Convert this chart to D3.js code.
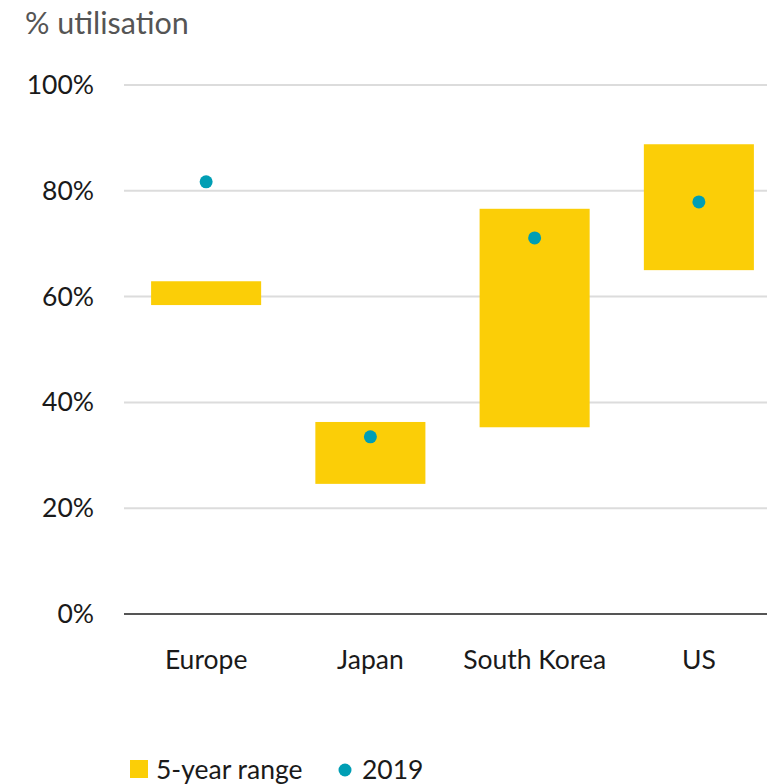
<!DOCTYPE html>
<head>
<meta charset="utf-8">
<style>
body, html {
  margin: 0;
  padding: 0;
  background: #fff;
  font-family: Lato, "Open Sans", sans-serif;
}
.grid line {
  stroke: #dcdcdc;
  stroke-width: 2;
}
.tick text {
  fill: #1a1a1a;
}
</style>
<script src="https://d3js.org/d3.v7.min.js"></script>
</head>
<body>
<script>

// values (% utilisation)
var countries = ["Europe", "Japan", "South Korea", "US"];
var rangeLow  = [58.4, 24.6, 35.3, 65.0];
var rangeHigh = [62.9, 36.3, 76.6, 88.8];
var value2019 = [81.7, 33.5, 71.1, 77.9];
var yTicks = [0, 20, 40, 60, 80, 100];

var width = 767,
    height = 784;

var yellow = "#fbce07",
    teal = "#009eb4";

var svg = d3.select("body").append("svg")
    .attr("width", width)
    .attr("height", height);

var x = d3.scaleBand()
    .domain(countries)
    .range([124, 781])
    .paddingInner(0.33)
    .paddingOuter(0.165);

var y = d3.scaleLinear()
    .domain([0, 100])
    .range([614, 85]);

// subtitle
svg.append("text")
    .attr("x", 25)
    .attr("y", 34)
    .attr("fill", "#555")
    .style("font-size", "30.5px")
    .text("% utilisation");

// gridlines
svg.append("g")
    .attr("class", "grid")
    .selectAll("line")
    .data(yTicks.filter(function(d) { return d > 0; }))
    .enter().append("line")
    .attr("x1", 124)
    .attr("x2", width)
    .attr("y1", function(d) { return y(d); })
    .attr("y2", function(d) { return y(d); });

// y axis labels
var yAxis = svg.append("g")
    .attr("transform", "translate(94,0)")
    .call(d3.axisLeft(y).tickValues(yTicks).tickSize(0).tickPadding(0)
      .tickFormat(function(d) { return d + "%"; }));
yAxis.select(".domain").remove();
yAxis.selectAll("text")
    .style("font-size", "26.5px")
    .style("font-family", "Lato, sans-serif");

// range bars
var data = countries.map(function(c, i) {
  return {name: c, lo: rangeLow[i], hi: rangeHigh[i], v: value2019[i]};
});

svg.append("g").selectAll("rect")
    .data(data)
    .enter().append("rect")
    .attr("x", function(d) { return x(d.name); })
    .attr("width", x.bandwidth())
    .attr("y", function(d) { return y(d.hi); })
    .attr("height", function(d) { return y(d.lo) - y(d.hi); })
    .attr("fill", yellow);

// zero line
svg.append("line")
    .attr("x1", 124)
    .attr("x2", width)
    .attr("y1", y(0))
    .attr("y2", y(0))
    .attr("stroke", "#555")
    .attr("stroke-width", 2);

// 2019 dots
svg.append("g").selectAll("circle")
    .data(data)
    .enter().append("circle")
    .attr("cx", function(d) { return x(d.name) + x.bandwidth() / 2; })
    .attr("cy", function(d) { return y(d.v); })
    .attr("r", 6.5)
    .attr("fill", teal);

// x axis labels
var xAxis = svg.append("g")
    .attr("transform", "translate(0," + 669 + ")")
    .call(d3.axisBottom(x).tickSize(0).tickPadding(0));
xAxis.select(".domain").remove();
xAxis.selectAll("text")
    .attr("dy", 0)
    .style("font-size", "26.5px")
    .style("font-family", "Lato, sans-serif");

// legend
var legend = svg.append("g").attr("transform", "translate(130,760)");
legend.append("rect")
    .attr("width", 18)
    .attr("height", 18)
    .attr("fill", yellow);
legend.append("text")
    .attr("x", 26)
    .attr("y", 19)
    .attr("fill", "#1a1a1a")
    .style("font-size", "26.5px")
    .text("5-year range");
legend.append("circle")
    .attr("cx", 215)
    .attr("cy", 10)
    .attr("r", 6.5)
    .attr("fill", teal);
legend.append("text")
    .attr("x", 232)
    .attr("y", 19)
    .attr("fill", "#1a1a1a")
    .style("font-size", "26.5px")
    .text("2019");

</script>
</body>
</html>
